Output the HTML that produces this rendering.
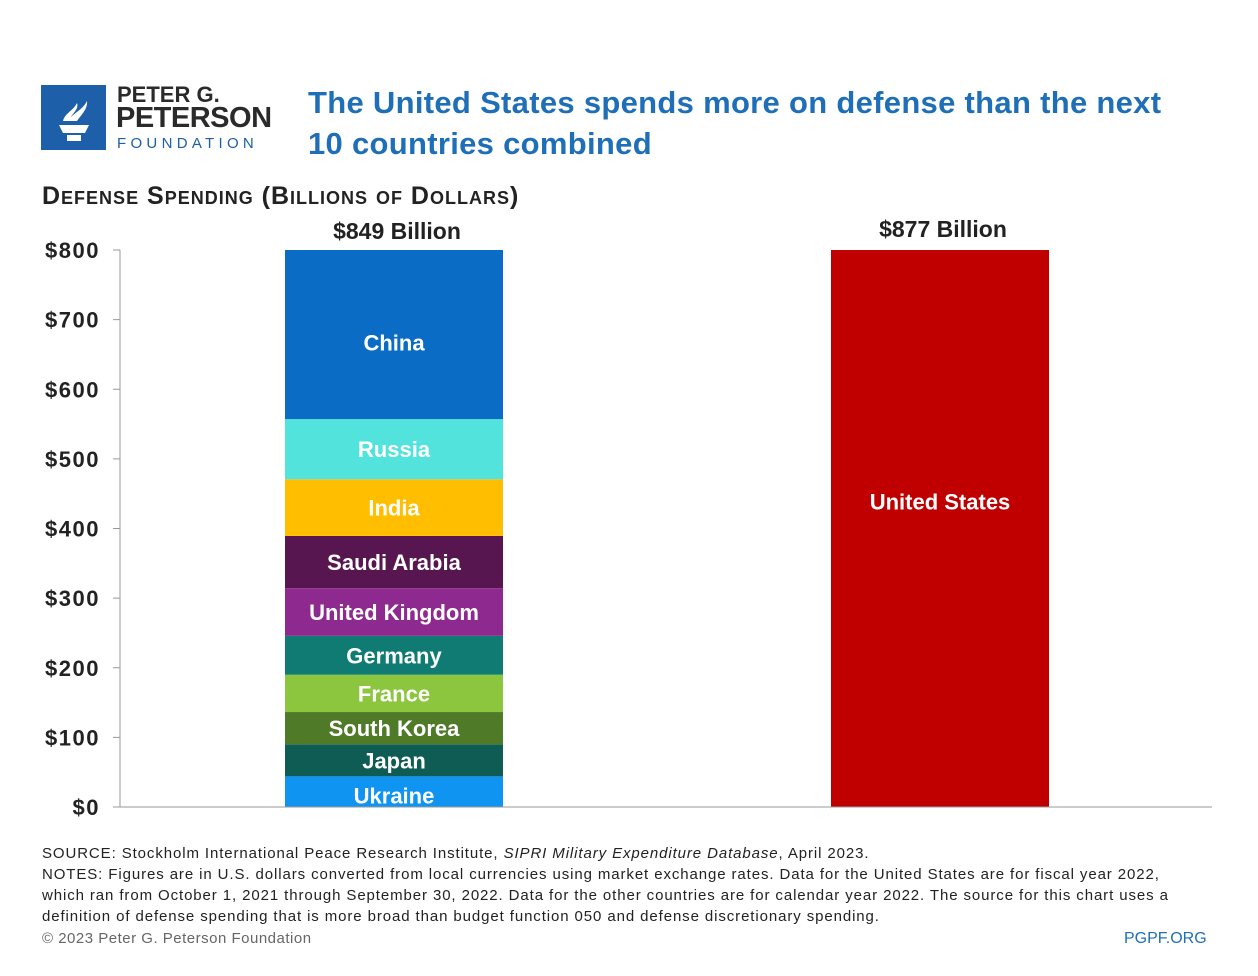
<!DOCTYPE html>
<html><head><meta charset="utf-8"><style>
body{margin:0;background:#fff;width:1258px;height:976px;overflow:hidden;font-family:"Liberation Sans",sans-serif;position:relative}
.a{position:absolute;white-space:nowrap}
</style></head><body>
<div class="a" style="left:41px;top:85px;width:65px;height:65px;background:#1d5fa8">
<svg width="65" height="65"><path d="M18 40h30l-4 8H22z M26 50h14v6H26z" fill="#fff"/><path d="M22 36c2-8 10-10 14-18 2 6-4 10-6 14 6-6 12-8 16-16 1 8-6 14-10 20z" fill="#fff"/></svg></div>
<div class="a" style="left:117px;top:82px;font-size:22px;font-weight:bold;color:#2a2a2a">PETER G.</div>
<div class="a" style="left:116px;top:102px;font-size:29px;font-weight:bold;color:#2a2a2a;letter-spacing:-0.5px">PETERSON</div>
<div class="a" style="left:117px;top:135px;font-size:15px;color:#1d5fa8;letter-spacing:4.3px">FOUNDATION</div>
<div class="a" style="left:308px;top:82px;font-size:31px;font-weight:bold;color:#1f6fb8;line-height:41px;letter-spacing:0.3px">The United States spends more on defense than the next<br>10 countries combined</div>
<div class="a" style="left:42px;top:182px;font-size:25px;font-weight:bold;color:#222;font-variant:small-caps;letter-spacing:1px">Defense Spending (Billions of Dollars)</div>
<svg class="a" style="left:0;top:0" width="1258" height="976" id="chart"></svg>
<div class="a" style="left:42px;top:843px;font-size:15px;color:#222;line-height:21px;letter-spacing:0.9px">SOURCE: Stockholm International Peace Research Institute, <i>SIPRI Military Expenditure Database</i>, April 2023.<br>NOTES: Figures are in U.S. dollars converted from local currencies using market exchange rates. Data for the United States are for fiscal year 2022,<br>which ran from October 1, 2021 through September 30, 2022. Data for the other countries are for calendar year 2022. The source for this chart uses a<br>definition of defense spending that is more broad than budget function 050 and defense discretionary spending.</div>
<div class="a" style="left:42px;top:930px;font-size:15px;color:#666;letter-spacing:0.5px">© 2023 Peter G. Peterson Foundation</div>
<div class="a" style="left:1124px;top:930px;font-size:16px;color:#1f6fb8">PGPF.ORG</div>
<script>
const countries=["Ukraine","Japan","South Korea","France","Germany","United Kingdom","Saudi Arabia","India","Russia","China"];
const values=[44,46,46.4,53.6,55.8,68.5,75,81.4,86.4,292];
const colors=["#0f94f2","#0f5c55","#4f7a28","#8cc63f","#0f7b73","#8e2a8f","#571650","#ffbf00","#52e3dc","#0a6cc4"];
const usValue=877;
const yTicks=[0,100,200,300,400,500,600,700,800];
const yMax=800;
const NS="http://www.w3.org/2000/svg";
const svg=document.getElementById('chart');
const y0=807,y1=250;
const y=v=>y0-(Math.min(v,yMax)/yMax)*(y0-y1);
function mk(t,a){const e=document.createElementNS(NS,t);for(const k in a)e.setAttribute(k,a[k]);svg.appendChild(e);return e;}
yTicks.forEach(t=>{
 const l=mk('line',{x1:113,x2:120,y1:y(t),y2:y(t),stroke:'#999'});
 
 
 const tx=mk('text',{x:100,y:y(t)+8,'text-anchor':'end','font-size':22,'font-weight':'bold',fill:'#222','font-family':'Liberation Sans','letter-spacing':1.5});
 tx.textContent='$'+t;
 
 
});
const ax=mk('line',{x1:120,x2:120,y1:y1,y2:y0,stroke:'#999'});


let cum=0;
countries.forEach((c,i)=>{
 const top=y(cum+values[i]),bot=y(cum);cum+=values[i];
 const r=mk('rect',{x:285,y:top,width:218,height:bot-top,fill:colors[i]});
 
 
 const t=mk('text',{x:394,y:(top+bot)/2+(i===0?12:8)+(i===9?8:0),'text-anchor':'middle','font-size':22,'font-weight':'bold',fill:'#fff','font-family':'Liberation Sans'});
 t.textContent=c;
 
 
});
const us=mk('rect',{x:831,y:y(usValue),width:218,height:y0-y(usValue),fill:'#c00000'});


const ut=mk('text',{x:940,y:y(usValue/2)+8,'text-anchor':'middle','font-size':22,'font-weight':'bold',fill:'#fff','font-family':'Liberation Sans'});
ut.textContent='United States';


const t1=mk('text',{x:397,y:239,'text-anchor':'middle','font-size':23,'font-weight':'bold',fill:'#222','font-family':'Liberation Sans'});
t1.textContent='$'+Math.round(cum)+' Billion';


const t2=mk('text',{x:943,y:237,'text-anchor':'middle','font-size':23,'font-weight':'bold',fill:'#222','font-family':'Liberation Sans'});
t2.textContent='$'+usValue+' Billion';


const bl=mk('line',{x1:115,x2:1212,y1:y0,y2:y0,stroke:'#999'});


</script>
</body></html>
